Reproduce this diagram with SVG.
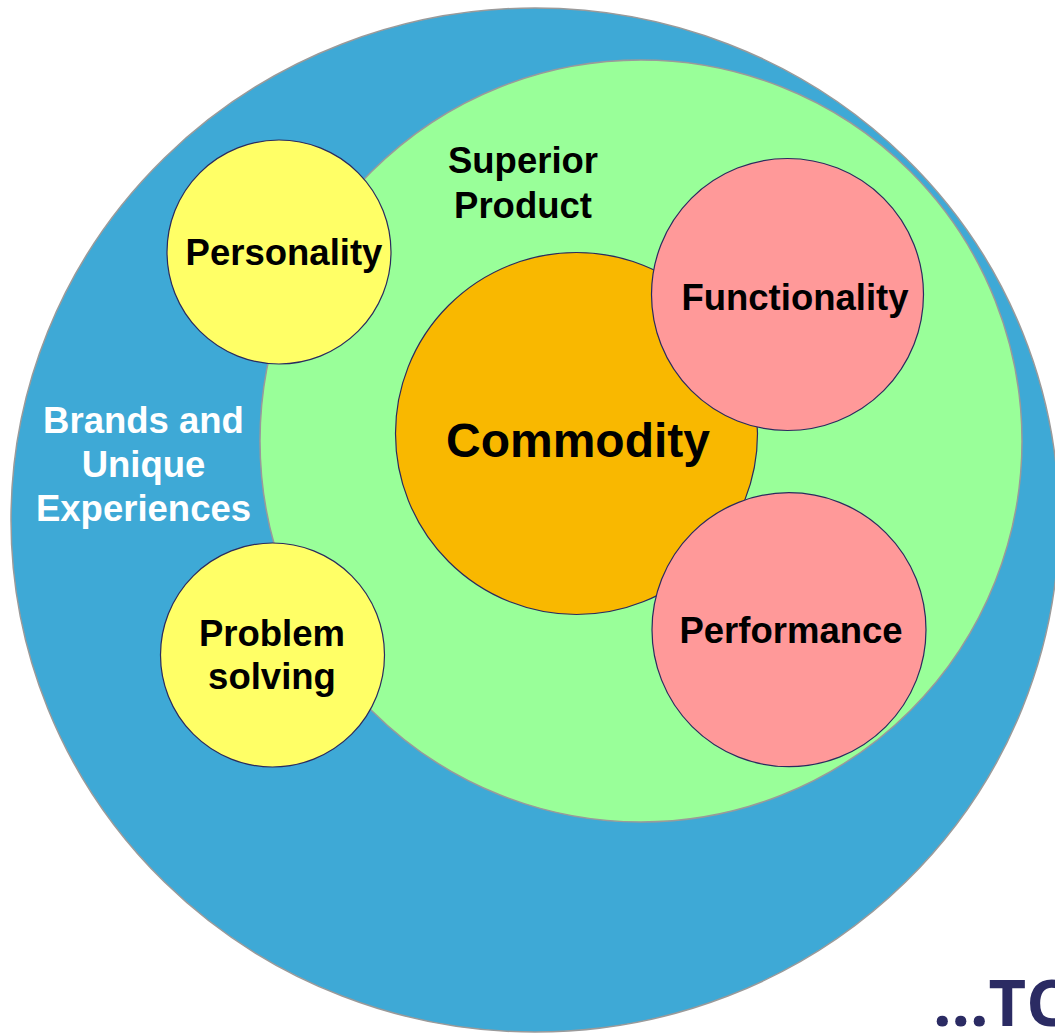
<svg xmlns="http://www.w3.org/2000/svg" width="1055" height="1033" viewBox="0 0 1055 1033">
  <style>
    .ring { stroke: #9a9a9a; stroke-width: 1.5; }
    .node { stroke: #2a2a5e; stroke-width: 1.2; }
    .lbl { font-family: "Liberation Sans", Arial, sans-serif; font-weight: bold; font-size: 36.5px; text-anchor: middle; fill: #000000; }
    .white { fill: #ffffff; }
    .big { font-size: 48px; }
    .tag { font-family: "Open Sans", "Liberation Sans", sans-serif; font-weight: bold; font-size: 65px; fill: #2b2b63; }
  </style>
  <rect width="1055" height="1033" fill="#ffffff"/>

  <!-- outer ring: brands and unique experiences -->
  <g id="brands">
    <ellipse class="ring" cx="535" cy="520" rx="524" ry="512" fill="#3ea9d6"/>
    <text class="lbl white" x="143.5" y="433">Brands and</text>
    <text class="lbl white" x="143.5" y="477">Unique</text>
    <text class="lbl white" x="143.5" y="521">Experiences</text>
  </g>

  <!-- middle ring: superior product -->
  <g id="superior-product">
    <circle class="ring" cx="641" cy="441" r="381" fill="#99ff99"/>
    <text class="lbl" x="523" y="173">Superior</text>
    <text class="lbl" x="523" y="218">Product</text>
  </g>

  <!-- core -->
  <g id="commodity">
    <circle class="node" cx="576.5" cy="433.5" r="181" fill="#f9b800"/>
    <text class="lbl big" x="578" y="457">Commodity</text>
  </g>

  <g id="functionality">
    <circle class="node" cx="787.5" cy="294.5" r="136" fill="#ff9999"/>
    <text class="lbl" x="795" y="310">Functionality</text>
  </g>

  <g id="performance">
    <circle class="node" cx="789" cy="629.7" r="137" fill="#ff9999"/>
    <text class="lbl" x="791" y="643">Performance</text>
  </g>

  <g id="personality">
    <circle class="node" cx="279" cy="252" r="112" fill="#ffff66"/>
    <text class="lbl" x="284" y="265">Personality</text>
  </g>

  <g id="problem-solving">
    <circle class="node" cx="272.5" cy="655" r="112" fill="#ffff66"/>
    <text class="lbl" x="272" y="646">Problem</text>
    <text class="lbl" x="272" y="689">solving</text>
  </g>

  <text class="tag" x="933" y="1026">...TC</text>
</svg>
